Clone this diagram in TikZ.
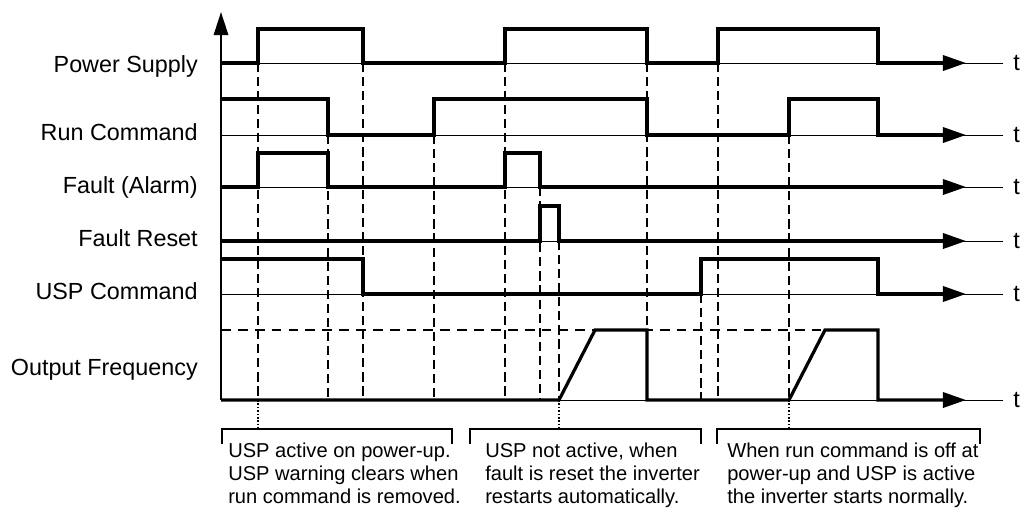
\documentclass[tikz,border=0pt]{standalone}
\usepackage{fontspec}
\setmainfont{Liberation Sans}
\usetikzlibrary{arrows.meta}

\begin{document}
\begin{tikzpicture}[x=0.025cm, y=-0.025cm,
    wave/.style={line width=2.3pt, -{Triangle[length=0.58cm, width=0.38cm]}},
    thinline/.style={line width=0.7pt},
    guide/.style={line width=0.85pt, dash pattern=on 6.5pt off 3.5pt},
    hguide/.style={line width=0.85pt, dash pattern=on 7pt off 5pt},
    dotguide/.style={line width=1pt, dash pattern=on 1.2pt off 1.2pt},
    bracket/.style={line width=1pt},
    signame/.style={anchor=base east, inner sep=0pt, font=\fontsize{16.6}{20}\selectfont},
    tlabel/.style={anchor=base west, inner sep=0pt, font=\fontsize{16.7}{20}\selectfont},
    note/.style={anchor=north west, inner sep=0pt, align=left, font=\fontsize{14.3}{16.4}\selectfont}]
    \useasboundingbox (0,0) rectangle (1024,515);

    % Dashed guides
    \draw[guide] (258,63) -- (258,400);
    \draw[guide] (328,135) -- (328,400);
    \draw[guide] (363,63) -- (363,400);
    \draw[guide] (434,135) -- (434,400);
    \draw[guide] (505,63) -- (505,400);
    \draw[guide] (540,187) -- (540,400);
    \draw[guide] (559,241) -- (559,400);
    \draw[guide] (647,63) -- (647,400);
    \draw[guide] (701,294) -- (701,400);
    \draw[guide] (718,63) -- (718,400);
    \draw[guide] (789,135) -- (789,400);
    \draw[hguide] (221,330) -- (825,330);

    % Dotted links to the notes
    \draw[dotguide] (258,400) -- (258,429);
    \draw[dotguide] (559,400) -- (559,429);
    \draw[dotguide] (789,400) -- (789,429);

    % Time lines
    \foreach \y/\n in {63/1, 135/2, 187/3, 241/4, 294/5, 400/6} {
        \draw[thinline] (221,\y) -- (1003,\y);
        \node[tlabel] (t\n) at (1013,\y+7) {t};
    }

    % Signal names
    \node[signame] (power) at (198,72) {Power Supply};
    \node[signame] (run) at (198,140) {Run Command};
    \node[signame] (fault) at (198,193) {Fault (Alarm)};
    \node[signame] (reset) at (198,246) {Fault Reset};
    \node[signame] (usp) at (198,299) {USP Command};
    \node[signame] (freq) at (198,375) {Output Frequency};

    % Power supply
    \draw[wave] (221,63) -- (258,63) -- (258,29) -- (363,29) -- (363,63) -- (505,63) -- (505,29)
        -- (647,29) -- (647,63) -- (718,63) -- (718,29) -- (878,29) -- (878,63) -- (966,63);

    % Run command
    \draw[wave] (221,99) -- (328,99) -- (328,135) -- (434,135) -- (434,99) -- (647,99) -- (647,135)
        -- (789,135) -- (789,99) -- (878,99) -- (878,135) -- (966,135);

    % Fault (alarm)
    \draw[wave] (221,187) -- (258,187) -- (258,153) -- (328,153) -- (328,187) -- (505,187)
        -- (505,153) -- (540,153) -- (540,187) -- (966,187);

    % Fault reset
    \draw[wave] (221,241) -- (540,241) -- (540,206) -- (559,206) -- (559,241) -- (966,241);

    % USP command
    \draw[wave] (221,259) -- (363,259) -- (363,294) -- (701,294) -- (701,259) -- (878,259)
        -- (878,294) -- (966,294);

    % Output frequency
    \draw[wave] (221,400) -- (559,400) -- (595,330) -- (647,330) -- (647,400) -- (789,400)
        -- (825,330) -- (878,330) -- (878,400) -- (966,400);

    % Vertical axis
    \draw[line width=1.5pt, -{Triangle[length=0.58cm, width=0.36cm]}] (221,400) -- (221,12);

    % Brackets
    \draw[bracket] (222,444) -- (222,429) -- (452,429) -- (452,444);
    \draw[bracket] (470,444) -- (470,429) -- (701,429) -- (701,444);
    \draw[bracket] (717,444) -- (717,429) -- (980,429) -- (980,444);

    % Notes
    \node[note] (note1) at (228,443) {USP active on power-up.\\USP warning clears when\\run command is removed.};
    \node[note] (note2) at (485,443) {USP not active, when\\fault is reset the inverter\\restarts automatically.};
    \node[note] (note3) at (727,443) {When run command is off at\\power-up and USP is active\\the inverter starts normally.};
\end{tikzpicture}
\end{document}
